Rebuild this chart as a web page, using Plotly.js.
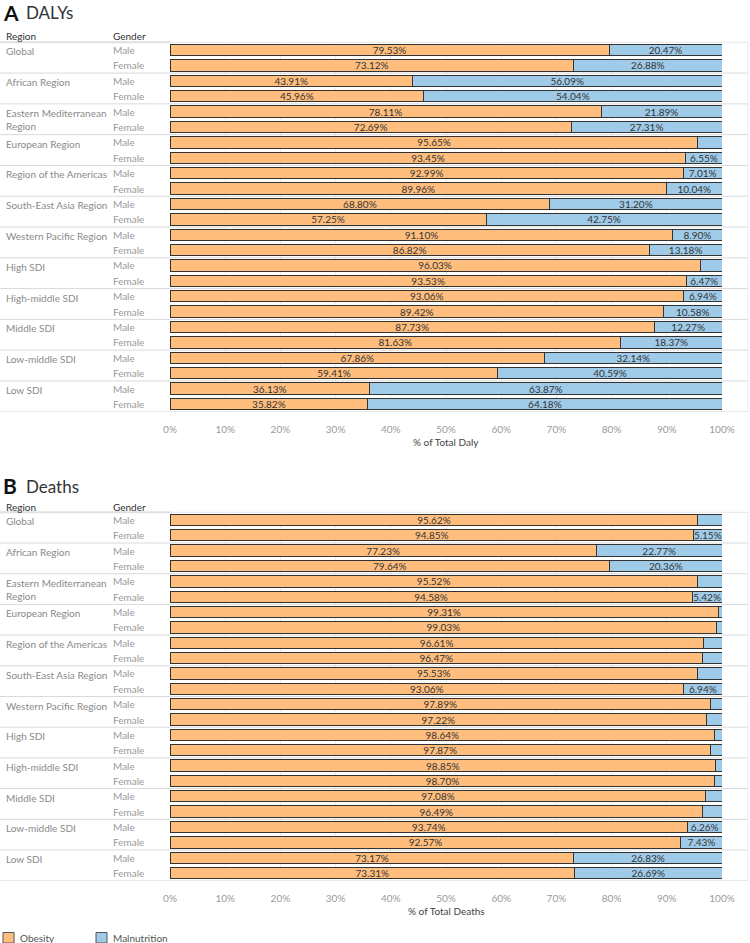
<!DOCTYPE html>
<html>
<head>
<meta charset="utf-8">
<script src="https://cdn.plot.ly/plotly-3.0.1.min.js"></script>
<style>html,body{margin:0;padding:0;background:#fff;}#chart{width:750px;height:943px;}</style>
</head>
<body>
<div id="chart"></div>
<script>
const regions = ['Global','African Region','Eastern Mediterranean<br>Region','European Region','Region of the Americas','South-East Asia Region','Western Pacific Region','High SDI','High-middle SDI','Middle SDI','Low-middle SDI','Low SDI'];
const genders = ['Male','Female'];
const seriesNames = ['Obesity','Malnutrition'];
const tickVals = [0,10,20,30,40,50,60,70,80,90,100];
const tickText = ['0%','10%','20%','30%','40%','50%','60%','70%','80%','90%','100%'];

// order: region by region, Male then Female
const dalyObesity = [79.53,73.12,43.91,45.96,78.11,72.69,95.65,93.45,92.99,89.96,68.80,57.25,91.10,86.82,96.03,93.53,93.06,89.42,87.73,81.63,67.86,59.41,36.13,35.82];
const dalyMalnutrition = [20.47,26.88,56.09,54.04,21.89,27.31,4.35,6.55,7.01,10.04,31.20,42.75,8.90,13.18,3.97,6.47,6.94,10.58,12.27,18.37,32.14,40.59,63.87,64.18];
const deathObesity = [95.62,94.85,77.23,79.64,95.52,94.58,99.31,99.03,96.61,96.47,95.53,93.06,97.89,97.22,98.64,97.87,98.85,98.70,97.08,96.49,93.74,92.57,73.17,73.31];
const deathMalnutrition = [4.38,5.15,22.77,20.36,4.48,5.42,0.69,0.97,3.39,3.53,4.47,6.94,2.11,2.78,1.36,2.13,1.15,1.30,2.92,3.51,6.26,7.43,26.83,26.69];

const W = 750, H = 943;
const FONT = 'Lato, "Open Sans", sans-serif';
const COLORS = ['#FFBE7D', '#A0CBE8'];
const px = v => v / W;           // x pixel -> paper
const py = v => 1 - v / H;       // y pixel -> paper

const rows = dalyObesity.map((_, i) => i);
const label = v => v >= 5 ? v.toFixed(2) + '%' : '';

function barTrace(vals, name, color, xa, ya) {
  return {
    type: 'bar', orientation: 'h', x: vals, y: rows, name: name,
    xaxis: xa, yaxis: ya, showlegend: false,
    marker: {color: color, line: {color: '#333', width: 1}},
    width: 0.74,
    text: vals.map(label), textposition: 'inside', insidetextanchor: 'middle',
    textangle: 0, constraintext: 'none',
    textfont: {family: FONT, size: 10, color: '#333'},
    hoverinfo: 'skip'
  };
}

const data = [
  barTrace(dalyObesity, seriesNames[0], COLORS[0], 'x', 'y'),
  barTrace(dalyMalnutrition, seriesNames[1], COLORS[1], 'x', 'y'),
  barTrace(deathObesity, seriesNames[0], COLORS[0], 'x2', 'y2'),
  barTrace(deathMalnutrition, seriesNames[1], COLORS[1], 'x2', 'y2')
];

// panel geometry (pixels)
const panels = [
  {ya: 'y', top: 42.3, bottom: 411.7, title: 'A', sub: 'DALYs', titleY: 12, headY: 36, axTitle: '% of Total Daly', axTitleY: 442},
  {ya: 'y2', top: 512.3, bottom: 880.7, title: 'B', sub: 'Deaths', titleY: 486, headY: 507, axTitle: '% of Total Deaths', axTitleY: 911}
];

const xaxisBase = {
  range: [0, 100], domain: [px(170), px(722)],
  tickmode: 'array', tickvals: tickVals, ticktext: tickText,
  showgrid: true, gridcolor: '#ececec', gridwidth: 1,
  zeroline: false, showline: false, ticks: '', fixedrange: true,
  tickfont: {family: FONT, size: 10, color: '#9a9a9a'}, ticklabelstandoff: 10
};
const yaxisBase = {range: [23.5, -0.5], showticklabels: false, showgrid: false, zeroline: false, showline: false, fixedrange: true};

const annotations = [];
const shapes = [];

panels.forEach(p => {
  annotations.push({xref: 'paper', yref: 'paper', x: px(1), y: py(p.titleY), xanchor: 'left', yanchor: 'middle',
    text: '<b>' + p.title + '</b>', showarrow: false, font: {family: FONT, size: 21, color: '#111'}});
  annotations.push({xref: 'paper', yref: 'paper', x: px(24), y: py(p.titleY + 0.5), xanchor: 'left', yanchor: 'middle',
    text: p.sub, showarrow: false, font: {family: FONT, size: 17, color: '#333'}});
  annotations.push({xref: 'paper', yref: 'paper', x: px(4), y: py(p.headY), xanchor: 'left', yanchor: 'middle',
    text: 'Region', showarrow: false, font: {family: FONT, size: 10, color: '#333'}});
  annotations.push({xref: 'paper', yref: 'paper', x: px(111), y: py(p.headY), xanchor: 'left', yanchor: 'middle',
    text: 'Gender', showarrow: false, font: {family: FONT, size: 10, color: '#333'}});
  annotations.push({xref: 'paper', yref: 'paper', x: px(446), y: py(p.axTitleY), xanchor: 'center', yanchor: 'middle',
    text: p.axTitle, showarrow: false, font: {family: FONT, size: 10, color: '#444'}});

  regions.forEach((r, i) => {
    annotations.push({xref: 'paper', yref: p.ya, x: px(4), y: 2 * i - 0.5, xanchor: 'left', yanchor: 'top', yshift: -1,
      text: r, align: 'left', showarrow: false, font: {family: FONT, size: 10, color: '#8a8a8a'}});
    genders.forEach((g, k) => {
      annotations.push({xref: 'paper', yref: p.ya, x: px(111), y: 2 * i + k, xanchor: 'left', yanchor: 'middle',
        text: g, showarrow: false, font: {family: FONT, size: 10, color: '#9a9a9a'}});
    });
  });

  // header rule & row separators
  shapes.push({type: 'line', xref: 'paper', yref: 'paper', x0: 0, x1: px(748), y0: py(p.top), y1: py(p.top),
    line: {color: '#e6e6e6', width: 1}});
  shapes.push({type: 'line', xref: 'paper', yref: 'paper', x0: 0, x1: px(170), y0: py(p.top), y1: py(p.top),
    line: {color: '#e0e0e0', width: 2}});
  for (let i = 1; i <= regions.length; i++) {
    shapes.push({type: 'line', xref: 'paper', yref: p.ya, x0: 0, x1: px(748), y0: 2 * i - 0.5, y1: 2 * i - 0.5,
      line: {color: '#dadada', width: 1}});
  }
  shapes.push({type: 'line', xref: 'paper', yref: 'paper', x0: px(748), x1: px(748), y0: py(p.top), y1: py(p.bottom),
    line: {color: '#eeeeee', width: 1}});
});

// custom legend (Tableau style)
const legendX = [3, 96];
seriesNames.forEach((n, i) => {
  shapes.push({type: 'rect', xref: 'paper', yref: 'paper', x0: px(legendX[i]), x1: px(legendX[i] + 11),
    y0: py(932.5), y1: py(943.5 - 0.5), fillcolor: COLORS[i], line: {color: '#555', width: 1}});
  annotations.push({xref: 'paper', yref: 'paper', x: px(legendX[i] + 15), y: py(938), xanchor: 'left', yanchor: 'middle',
    text: n, showarrow: false, font: {family: FONT, size: 10, color: '#555'}});
});

const layout = {
  width: W, height: H, margin: {l: 0, r: 0, t: 0, b: 0},
  paper_bgcolor: '#fff', plot_bgcolor: '#fff',
  barmode: 'stack', bargap: 0.26,
  font: {family: FONT, size: 10, color: '#333'},
  uniformtext: {mode: 'show', minsize: 10},
  xaxis: Object.assign({}, xaxisBase, {anchor: 'y'}),
  yaxis: Object.assign({}, yaxisBase, {domain: [py(panels[0].bottom), py(panels[0].top)], anchor: 'x'}),
  xaxis2: Object.assign({}, xaxisBase, {anchor: 'y2'}),
  yaxis2: Object.assign({}, yaxisBase, {domain: [py(panels[1].bottom), py(panels[1].top)], anchor: 'x2'}),
  annotations: annotations, shapes: shapes,
  showlegend: false
};

Plotly.newPlot('chart', data, layout, {displayModeBar: false, staticPlot: true});
</script>
</body>
</html>
